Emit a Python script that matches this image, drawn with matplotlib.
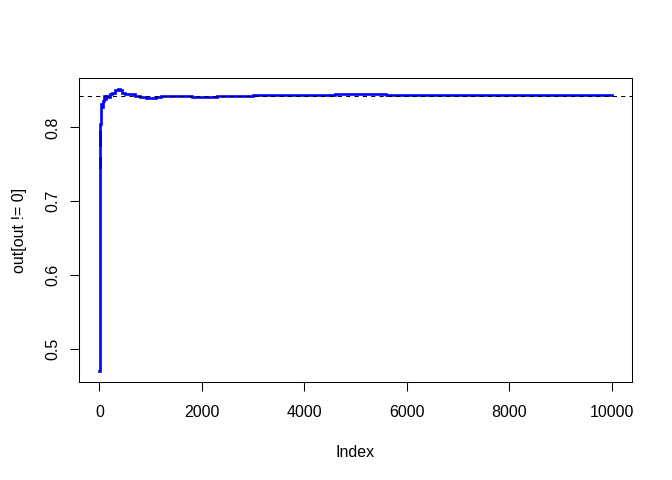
import matplotlib
matplotlib.use("Agg")
import matplotlib.pyplot as plt
import numpy as np

plt.rcParams['font.family'] = ['Liberation Sans', 'DejaVu Sans']

# Data (running estimate vs index)
index = [1, 2, 3, 5, 8, 12, 16, 20, 30, 40, 50, 60, 80, 100, 130, 160, 200, 250,
         300, 330, 360, 400, 450, 500, 550, 600, 650, 700, 800, 900, 950, 1000,
         1100, 1200, 1300, 1400, 1600, 1800, 2000, 2300, 2600, 3000, 3500, 4000,
         4500, 4600, 5000, 5500, 5600, 6000, 7000, 8000, 8700, 9000, 9500, 10000]
values = [0.4707, 0.76, 0.745, 0.79, 0.775, 0.795, 0.79, 0.805, 0.815, 0.831, 0.828,
          0.836, 0.842, 0.838, 0.843, 0.841, 0.845, 0.847,
          0.851, 0.8505, 0.8515, 0.850, 0.846, 0.8455, 0.845, 0.8455, 0.8445, 0.843,
          0.841, 0.840, 0.839, 0.8395,
          0.8405, 0.842, 0.8425, 0.8425, 0.8425, 0.841, 0.8415, 0.842, 0.843, 0.8435,
          0.8435, 0.8435,
          0.8437, 0.8445, 0.8445, 0.8445, 0.8437, 0.8435, 0.8435, 0.8435, 0.8442,
          0.8443, 0.8443, 0.8443]
reference_value = 0.8427

fig = plt.figure(figsize=(6.72, 4.8), dpi=100)
ax = fig.add_axes([79/672, 98/480, (632-79)/672, (382-78)/480])

ax.plot(index, values, color='blue', linewidth=1.9, drawstyle='steps-post',
        solid_joinstyle='miter')
ax.axhline(reference_value, color='black', linewidth=0.75, linestyle=(0, (4, 4)))

n = max(index)
x0 = 1
pad = 0.04 * (n - x0)
ax.set_xlim(x0 - pad, n + pad)
ymin, ymax = min(values), max(values)
ypad = 0.04 * (ymax - ymin)
ax.set_ylim(ymin - ypad, ymax + ypad)

fs = 11.5
ax.set_xticks([0, 2000, 4000, 6000, 8000, 10000])
ax.set_yticks([0.5, 0.6, 0.7, 0.8])
ax.set_yticklabels(['0.5', '0.6', '0.7', '0.8'], rotation=90, va='center')
ax.tick_params(axis='both', direction='out', length=6.5, width=0.75, labelsize=fs)
ax.tick_params(axis='x', pad=10)
ax.tick_params(axis='y', pad=7)
for s in ax.spines.values():
    s.set_linewidth(0.75)

ax.set_xlabel('Index', fontsize=fs, labelpad=18)
ax.set_ylabel('out[out != 0]', fontsize=fs, labelpad=13)

fig.savefig('out.png', dpi=100)
